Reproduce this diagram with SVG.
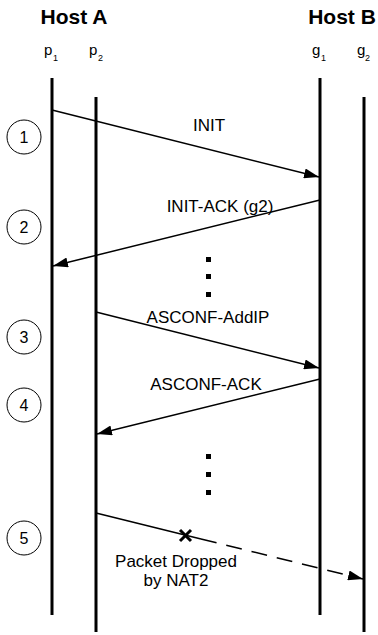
<svg xmlns="http://www.w3.org/2000/svg" width="378" height="635" viewBox="0 0 378 635">
<defs>
<style>
.title{font-family:"Liberation Sans",Arial,sans-serif;font-size:21px;font-weight:bold;fill:#000}
.lbl{font-family:"Liberation Sans",Arial,sans-serif;font-size:17px;fill:#000}
.num{font-family:"Liberation Sans",Arial,sans-serif;font-size:16px;fill:#000}
.pl{font-family:"Liberation Sans",Arial,sans-serif;font-size:15px;fill:#000}
.sub{font-family:"Liberation Sans",Arial,sans-serif;font-size:9px;fill:#000}
.life{stroke:#000;stroke-width:3;fill:none}
.msg{stroke:#000;stroke-width:1.5;fill:none}
.step{stroke:#000;stroke-width:1;fill:#fff}
.dot{fill:#000}
</style>
<marker id="ah" viewBox="0 0 15 10" refX="15" refY="5" markerWidth="15" markerHeight="10" markerUnits="userSpaceOnUse" orient="auto">
<path d="M0,0 L15,5 L0,10 Z" fill="#000"/>
</marker>
</defs>
<rect width="378" height="635" fill="#fff"/>
<g id="hostA"><text class="title" x="74" y="24" text-anchor="middle">Host A</text></g>
<g id="hostB"><text class="title" x="342" y="24" text-anchor="middle">Host B</text></g>
<g id="p1"><text class="pl" x="44" y="55">p</text><text class="sub" x="53" y="61">1</text><line class="life" x1="52" y1="78" x2="52" y2="615"/></g>
<g id="p2"><text class="pl" x="89" y="55">p</text><text class="sub" x="98" y="61">2</text><line class="life" x1="96" y1="97" x2="96" y2="632"/></g>
<g id="g1"><text class="pl" x="312" y="55">g</text><text class="sub" x="321" y="61">1</text><line class="life" x1="320" y1="78" x2="320" y2="615"/></g>
<g id="g2"><text class="pl" x="357" y="55">g</text><text class="sub" x="365" y="61">2</text><line class="life" x1="364" y1="97" x2="364" y2="632"/></g>
<g id="step1"><circle class="step" cx="24" cy="137" r="17"/><text class="num" x="24" y="143" text-anchor="middle">1</text></g>
<g id="step2"><circle class="step" cx="24" cy="227" r="17"/><text class="num" x="24" y="233" text-anchor="middle">2</text></g>
<g id="step3"><circle class="step" cx="24" cy="337" r="17"/><text class="num" x="24" y="343" text-anchor="middle">3</text></g>
<g id="step4"><circle class="step" cx="24" cy="405" r="17"/><text class="num" x="24" y="411" text-anchor="middle">4</text></g>
<g id="step5"><circle class="step" cx="24" cy="538" r="17"/><text class="num" x="24" y="544" text-anchor="middle">5</text></g>
<g id="connectors">
<line class="msg" x1="52" y1="110" x2="319" y2="177" marker-end="url(#ah)"/>
<line class="msg" x1="320" y1="200" x2="53" y2="266" marker-end="url(#ah)"/>
<line class="msg" x1="96" y1="312" x2="319" y2="368" marker-end="url(#ah)"/>
<line class="msg" x1="320" y1="379" x2="97" y2="434" marker-end="url(#ah)"/>
<line class="msg" x1="96" y1="513" x2="201" y2="539"/>
<line class="msg" x1="201" y1="539" x2="363" y2="579" stroke-dasharray="16,10" marker-end="url(#ah)"/>
<path d="M180,530 L191,541 M191,530 L180,541" stroke="#000" stroke-width="3" fill="none"/>
</g>
<g id="labels">
<text class="lbl" x="209" y="131" text-anchor="middle">INIT</text>
<text class="lbl" x="220" y="212" text-anchor="middle">INIT-ACK (g2)</text>
<text class="lbl" x="208" y="323" text-anchor="middle">ASCONF-AddIP</text>
<text class="lbl" x="206" y="390" text-anchor="middle">ASCONF-ACK</text>
<text class="lbl" x="176" y="567" text-anchor="middle">Packet Dropped</text>
<text class="lbl" x="176" y="586" text-anchor="middle">by NAT2</text>
</g>
<g id="dots">
<rect class="dot" x="206" y="257" width="5" height="5"/>
<rect class="dot" x="206" y="274" width="5" height="5"/>
<rect class="dot" x="206" y="292" width="5" height="5"/>
<rect class="dot" x="206" y="454" width="5" height="5"/>
<rect class="dot" x="206" y="472" width="5" height="5"/>
<rect class="dot" x="206" y="490" width="5" height="5"/>
</g>
</svg>
